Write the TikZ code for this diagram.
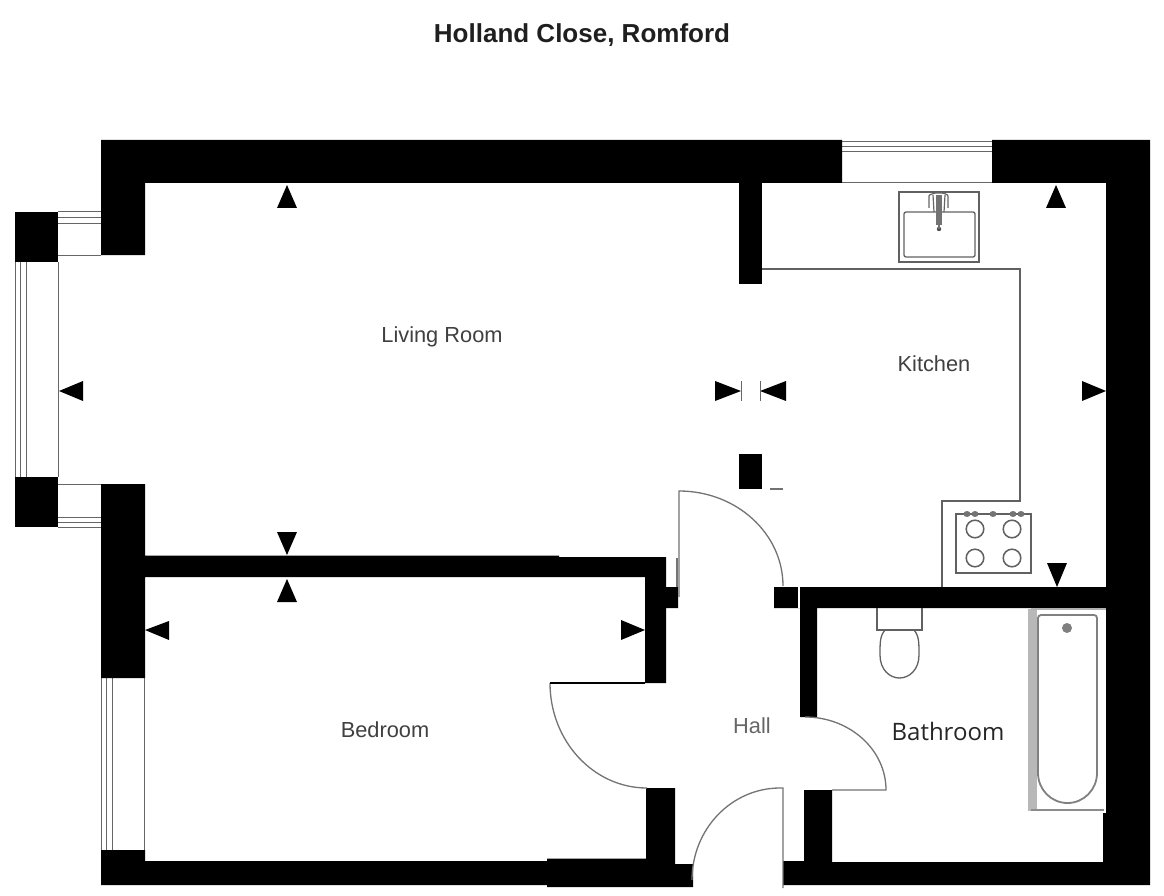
\documentclass[tikz,border=0pt]{standalone}
\usepackage{fontspec}
\setmainfont{Liberation Sans}
\newfontfamily\bathfont{Open Sans}
\tikzset{
 wall/.style={fill=black,draw=none},
 wline/.style={draw=black!60,line width=1pt},
 door/.style={draw=black!55,line width=1.3pt},
 fit/.style={draw=black!62,line width=1.3pt},
 roomlabel/.style={font=\fontsize{21.8}{26}\selectfont,text=black!75,inner sep=0pt},
}
\newcommand{\tri}[6]{\fill[black] (#1,#2) -- (#3,#4) -- (#5,#6) -- cycle;}
\begin{document}
\begin{tikzpicture}[x=1pt,y=-1pt]
\useasboundingbox (0,0) rectangle (1164,896);
\fill[white] (0,0) rectangle (1164,896);
% windows
\foreach \yy in {212,217,223,255,484,517,522,527} \draw[wline] (58,\yy) -- (101,\yy);
\foreach \xx in {15.5,20,26,58.5} \draw[wline] (\xx,262) -- (\xx,477);
\foreach \xx in {101.5,106,112,144} \draw[wline] (\xx,678) -- (\xx,851);
\foreach \yy in {142,147,152,183} \draw[wline] (842,\yy) -- (992,\yy);
% walls
\fill[wall] (101,140) -- (842,140) -- (842,183) -- (145,183) -- (145,255) -- (101,255) -- cycle;
\fill[wall] (992,140) -- (1150,140) -- (1150,885) -- (783,885) -- (783,861) -- (804,861) -- (804,790) -- (832,790) -- (832,862) -- (1103,862) -- (1103,813) -- (1106,813) -- (1106,608) -- (817,608) -- (817,717) -- (800,717) -- (800,608) -- (774,608) -- (774,587) -- (1106,587) -- (1106,183) -- (992,183) -- cycle;
\fill[white] (798,587) rectangle (800,608);
\fill[wall] (15,212) rectangle (58,262);
\fill[wall] (15,477) rectangle (58,527);
\fill[wall] (739,183) rectangle (762,284);
\fill[wall] (739,454) rectangle (762,489);
% left wall, bedroom walls and bottom wall
\fill[wall] (101,484) -- (145,484) -- (145,555.5) -- (559,555.5) -- (559,557) -- (666,557) -- (666,587) -- (678,587) -- (678,608) -- (666,608) -- (666,683) -- (645,683) -- (645,577) -- (145,577) -- (145,678) -- (101,678) -- cycle;
\fill[wall] (101,850) -- (145,850) -- (145,861) -- (547,861) -- (547,858.5) -- (646,858.5) -- (646,788) -- (675,788) -- (675,864) -- (693,864) -- (693,887) -- (547,887) -- (547,885) -- (101,885) -- cycle;
% counter
\draw[fit,line join=miter] (762,269) -- (1020,269) -- (1020,501) -- (942,501) -- (942,587);
% doors
\draw[door] (677,558) -- (677,587);
\draw[door] (679,597) -- (679,491) arc[start angle=-90,end angle=0,x radius=104,y radius=95];
\draw[door] (550,683) arc[start angle=180,end angle=90,x radius=97,y radius=105];
\draw[draw=black,line width=1.7pt] (550,683) -- (645,683);
\draw[door] (783,888) -- (783,788) -- (780,788) arc[start angle=-90,end angle=-180,x radius=88,y radius=92];
\draw[door] (805,717) arc[start angle=-90,end angle=0,x radius=81,y radius=73] -- (832,790);
\draw[door] (770,489) -- (783,489);
% sink
\draw[fit] (899,192) rectangle (979,262);
\draw[fit,rounded corners=2pt] (904,212) rectangle (975,257);
\fill[black!55] (936,195) rectangle (942,225);
\draw[black!60,line width=1.2pt,rounded corners=1pt] (929,208) -- (929,195) -- (935,193) -- (943,193) -- (948,195) -- (948,208);
\draw[black!60,line width=1.2pt] (933,195) -- (934,212);
\draw[black!60,line width=1.2pt] (945,195) -- (944,212);
\fill[black!70] (939,229) circle[radius=2.2];
\draw[black!55,line width=2pt] (939,222) -- (939,229);
% hob
\draw[fit] (956,514) rectangle (1031,573);
\foreach \xx/\yy in {975/529,1012/529,975/558,1012/558} \draw[fit,line width=1.5pt] (\xx,\yy) circle[radius=8.8];
\foreach \xx in {967,975,993,1013,1021} \fill[black!55] (\xx,514) ellipse[x radius=3.5,y radius=3];
% toilet
\draw[fit] (877,608) -- (877,630) -- (922,630) -- (922,608);
\draw[fit] (885,630) .. controls (880,636) and (880,642) .. (880,655) .. controls (880,670) and (890,678) .. (899.5,678) .. controls (909,678) and (919,670) .. (919,655) .. controls (919,642) and (919,636) .. (914,630);
% bath
\fill[black!28] (1028,609) rectangle (1037,811);
\draw[black!45,line width=1.6pt] (1031,810) -- (1104,810);
\draw[black!30,line width=1.4pt] (1031,609) -- (1106,609);
\draw[black!50,line width=1.8pt,rounded corners=3pt] (1038,775) -- (1038,615) -- (1097,615) -- (1097,775);
\draw[black!50,line width=1.8pt] (1038,773) arc[start angle=180,end angle=0,x radius=29.5,y radius=30];
\fill[black!50] (1067,628) circle[radius=5];
% markers
\tri{287}{185}{277}{208}{297}{208}
\tri{1056}{185}{1046}{208}{1066}{208}
\tri{59}{391}{83}{381}{83}{401}
\tri{287}{555}{277}{532}{297}{532}
\tri{287}{579}{277}{602}{297}{602}
\tri{145}{630}{169}{621}{169}{640}
\tri{645}{630}{621}{620}{621}{640}
\tri{741}{391}{715}{381}{715}{401}
\tri{760}{391}{786}{381}{786}{401}
\tri{1106}{391}{1082}{381}{1082}{401}
\tri{1057}{587}{1047}{563}{1067}{563}
\draw[black!60,line width=1pt] (741,381) -- (741,401);
\draw[black!60,line width=1pt] (760,381) -- (760,401);
% labels
\node[font=\bfseries\fontsize{26}{30}\selectfont,text=black!88,inner sep=0pt] (title) at (582,35) {Holland Close, Romford};
\node[roomlabel] (living) at (442,336.5) {Living Room};
\node[roomlabel] (kitchen) at (934,364) {Kitchen};
\node[roomlabel] (bedroom) at (385,730) {Bedroom};
\node[roomlabel,text=black!60] (hall) at (752,726) {Hall};
\node[font=\bathfont\fontsize{24}{28}\selectfont,text=black!85,inner sep=0pt] (bathroom) at (948,731) {Bathroom};
\end{tikzpicture}
\end{document}
